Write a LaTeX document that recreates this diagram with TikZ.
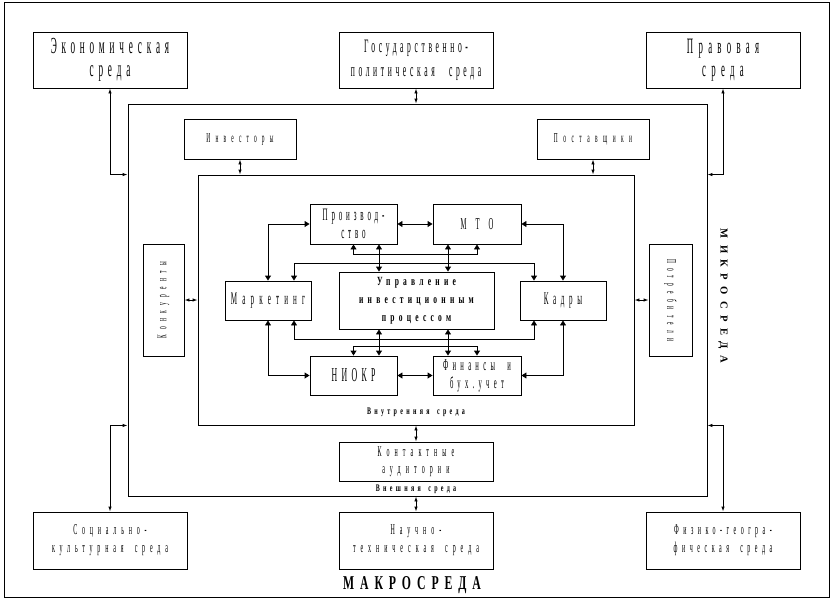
\documentclass[tikz,border=0pt]{standalone}
\usepackage{fontspec}
\setmainfont{Liberation Serif}
\newfontfamily\myc{Liberation Serif}[FakeStretch=0.4]
\newfontfamily\myb{Liberation Serif}[FakeStretch=0.6]
\newfontfamily\myr{Liberation Serif}
\usetikzlibrary{arrows.meta}
\newcommand\fs[3]{\fontsize{#1}{#2}\selectfont\addfontfeature{LetterSpace=#3}}
\newcommand\ws{\hspace{0.75em}}
\begin{document}
\begin{tikzpicture}[x=1pt,y=-1pt,
  box/.style={draw, line width=0.9pt, inner sep=0pt, align=center},
  oarr/.style={line width=0.9pt, {Latex[length=5pt,width=3.5pt]}-{Latex[length=5pt,width=3.5pt]}},
  iarr/.style={line width=0.9pt, {Triangle[length=5pt,width=6pt]}-{Triangle[length=5pt,width=6pt]}}]
\useasboundingbox (0,0) rectangle (833,600);
\draw[line width=0.9pt] (4,2) rectangle (829,597);
% frames
\node[box,minimum width=579,minimum height=392] (mid) at (417.5,300) {};
\node[box,minimum width=436,minimum height=250] (inner) at (416,300) {};
% macro environment
\node[box,minimum width=154,minimum height=56,font={\myc\fs{23}{23}{21}}] (eco) at (110,60) {Экономическая\\среда};
\node[box,minimum width=154,minimum height=56,font={\myc\fs{19}{24}{19}}] (gov) at (416,60) {Государственно-\\политическая\ws среда};
\node[box,minimum width=154,minimum height=56,font={\myc\fs{22}{23}{24}}] (law) at (723,60) {Правовая\\среда};
\node[box,minimum width=154,minimum height=57,font={\myc\fs{15}{18}{32}}] (soc) at (110,540.5) {Социально-\\культурная\ws среда};
\node[box,minimum width=154,minimum height=57,font={\myc\fs{15}{18}{33}}] (nauch) at (416,540.5) {Научно-\\техническая\ws среда};
\node[box,minimum width=154,minimum height=57,font={\myc\fs{15}{18}{30}}] (phys) at (723,540.5) {Физико-геогра-\\фическая\ws среда};
% micro environment
\node[box,minimum width=112,minimum height=40,font={\myc\fs{13.6}{16}{38}}] (inv) at (240,139) {Инвесторы};
\node[box,minimum width=112,minimum height=40,font={\myc\fs{13.6}{16}{40}}] (sup) at (593,139) {Поставщики};
\node[box,minimum width=41,minimum height=112] (konk) at (163.5,300) {};
\node[rotate=90,inner sep=0pt,font={\myc\fs{13.6}{16}{39}}] (konkt) at (konk.center) {Конкуренты};
\node[box,minimum width=43,minimum height=112] (potr) at (670.5,300) {};
\node[rotate=-90,inner sep=0pt,font={\myc\fs{13.6}{16}{38}}] (potrt) at (potr.center) {Потребители};
\node[box,minimum width=154,minimum height=39,font={\myc\fs{15}{17}{34}}] (kont) at (416,461.5) {Контактные\\аудитории};
% internal environment
\node[box,minimum width=87,minimum height=40,font={\myc\fs{17.5}{18.5}{22}}] (prod) at (353.5,224) {Производ-\\ство};
\node[box,minimum width=88,minimum height=40,font={\myc\fs{16.6}{18}{55}}] (mto) at (477,224) {МТО};
\node[box,minimum width=86,minimum height=39,font={\myc\fs{17.7}{18}{29}}] (mark) at (268,300.5) {Маркетинг};
\node[box,minimum width=155,minimum height=57,font={\myb\bfseries\fs{12.5}{18}{34}}] (upr) at (416.5,300.5) {Управление\\инвестиционным\\процессом};
\node[box,minimum width=86,minimum height=39,font={\myc\fs{17.7}{18}{26}}] (kadr) at (563,300.5) {Кадры};
\node[box,minimum width=87,minimum height=39,font={\myc\fs{19.6}{18}{22}}] (niokr) at (353.5,375.5) {НИОКР};
\node[box,minimum width=88,minimum height=39,font={\myc\fs{16.5}{18}{26}}] (fin) at (477,375.5) {Финансы\ws и\\бух.учет};
% labels
\node[inner sep=0pt,font={\myb\bfseries\fs{10}{12}{33}}] (vnutr) at (416,412) {Внутренняя\ws среда};
\node[inner sep=0pt,font={\myb\bfseries\fs{10}{12}{33}}] (vnesh) at (416,489) {Внешняя\ws среда};
\node[inner sep=0pt,font={\myb\bfseries\fs{19.6}{20}{30}}] (makro) at (412,585) {МАКРОСРЕДА};
\node[rotate=-90,inner sep=0pt,font={\myr\bfseries\fs{10.6}{12}{60}}] (mikro) at (723,296) {МИКРОСРЕДА};
% outer connectors
\draw[oarr] (eco.south) |- (mid.west |- inner.north);
\draw[oarr] (gov.south) -- (gov.south |- mid.north);
\draw[oarr] (law.south) |- (mid.east |- inner.north);
\draw[oarr] (soc.north) |- (mid.west |- inner.south);
\draw[oarr] (kont.north |- inner.south) -- (kont.north);
\draw[oarr] (nauch.north |- mid.south) -- (nauch.north);
\draw[oarr] (phys.north) |- (mid.east |- inner.south);
\draw[oarr] (inv.south) -- (inv.south |- inner.north);
\draw[oarr] (sup.south) -- (sup.south |- inner.north);
\draw[oarr] (konk.east) -- (konk.east -| inner.west);
\draw[oarr] (potr.west -| inner.east) -- (potr.west);
% inner connectors
\draw[iarr] (prod.east) -- (mto.west);
\draw[iarr] (niokr.east) -- (fin.west);
\draw[iarr] (mark.north) |- (prod.west);
\draw[iarr] (mark.south) |- (niokr.west);
\draw[iarr] (mto.east) -| (kadr.north);
\draw[iarr] (fin.east) -| (kadr.south);
\draw[iarr] ([xshift=25.5pt]prod.south) -- ([xshift=25.5pt]prod.south |- upr.north);
\draw[iarr] ([xshift=-29pt]mto.south) -- ([xshift=-29pt]mto.south |- upr.north);
\draw[iarr] ([xshift=25.5pt]niokr.north) -- ([xshift=25.5pt]niokr.north |- upr.south);
\draw[iarr] ([xshift=-29pt]fin.north) -- ([xshift=-29pt]fin.north |- upr.south);
\draw[iarr] (prod.south) -- ++(0,10) -| (mto.south);
\draw[iarr] ([xshift=26pt]mark.north) -- ++(0,-17) -| ([xshift=-29pt]kadr.north);
\draw[iarr] ([xshift=26pt]mark.south) -- ++(0,19) -| ([xshift=-29pt]kadr.south);
\draw[iarr] (niokr.north) -- ++(0,-9) -| (fin.north);
\end{tikzpicture}
\end{document}
